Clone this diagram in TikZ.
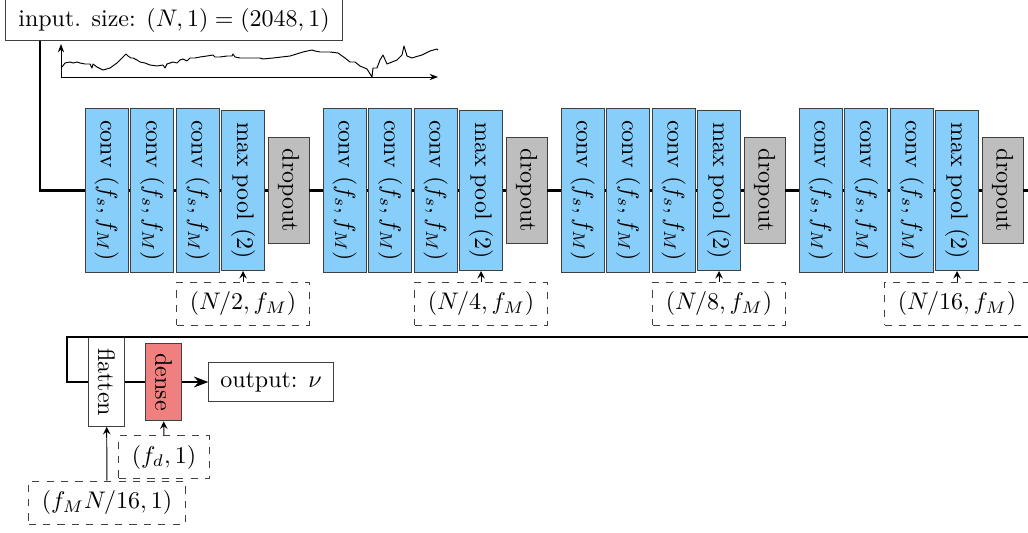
\documentclass[tikz,border=0pt]{standalone}
\usepackage{amsmath,amssymb}
\usetikzlibrary{arrows.meta}
\definecolor{convblue}{HTML}{87CEFA}
\definecolor{dropgray}{HTML}{BEBEBE}
\definecolor{densered}{HTML}{F08080}
\definecolor{edgegray}{HTML}{404040}

\begin{document}
\begin{tikzpicture}[x=0.01465cm, y=-0.01465cm,
  layer/.style={draw=edgegray, rotate=-90, minimum height=0.635cm, inner sep=2pt},
  convlayer/.style={layer, fill=convblue, minimum width=2.39cm},
  poollayer/.style={layer, fill=convblue, minimum width=2.344cm},
  droplayer/.style={layer, fill=dropgray, minimum width=1.547cm, minimum height=0.60cm},
  sizebox/.style={draw=edgegray, dashed, minimum height=0.63cm, inner xsep=5.5pt},
  flow/.style={line width=1.2pt},
  tip/.style={->, >=stealth, thin}]
  \path[use as bounding box, clip] (0,0) rectangle (1028,532);

  % input and signal
  \node[draw=edgegray, minimum width=4.95cm, minimum height=0.6cm, fill=white] (in) at (174,20) {input. size: $(N,1) = (2048,1)$};
  \draw[-{Stealth[length=3.5pt]}] (61,77) -- (61,44);
  \draw[-{Stealth[length=3.5pt]}] (61,77) -- (438,77);
  \draw[thin, line join=round] plot coordinates {
    (62,67) (65,63) (70,62) (73,63) (77,62) (80,63) (85,64) (90,64) (92,68) (93,64)
    (97,67) (103,70) (110,68) (117,63) (122,58) (126,54) (128,56) (131,58) (133,58)
    (137,60) (140,62) (145,63) (150,65) (157,66) (163,65) (165,68) (167,64) (170,63)
    (173,62) (177,63) (180,60) (183,59) (187,61) (190,58) (195,58) (200,57) (207,56)
    (213,55) (215,57) (220,57) (227,56) (232,56) (233,54) (235,57) (240,58) (245,58)
    (250,58) (260,58) (263,59) (273,58) (290,56) (303,52) (312,50) (315,51) (320,52)
    (330,52) (338,53) (345,58) (350,62) (355,62) (360,66) (367,69) (372,77) (373,68)
    (377,68) (380,60) (383,55) (387,64) (392,62) (397,60) (402,55) (404,46) (407,56)
    (412,58) (415,57) (422,55) (430,51) (437,49) (438,50)};

  % four conv blocks
  \foreach \g/\lab in {0/2, 1/4, 2/8, 3/16} {
    \pgfmathsetmacro{\xo}{238*\g}
    \node[convlayer] (c\g1) at (106.7+\xo,190.5) {conv $(f_s,f_M)$};
    \node[convlayer] (c\g2) at (152+\xo,190.5) {conv $(f_s,f_M)$};
    \node[convlayer] (c\g3) at (197.7+\xo,190.5) {conv $(f_s,f_M)$};
    \node[poollayer] (mp\g) at (243+\xo,190.5) {max pool $(2)$};
    \node[droplayer] (do\g) at (288.5+\xo,190.5) {dropout};
    \node[sizebox] (lb\g) at (243+\xo,303.5) {$(N/\lab, f_M)$};
    \draw[flow] (c\g1) -- (c\g2) -- (c\g3) -- (mp\g) -- (do\g);
    \draw[tip] (lb\g) -- (mp\g);
  }
  \foreach \g [evaluate=\g as \h using int(\g+1)] in {0,1,2}
    \draw[flow] (do\g) -- (c\h1);

  \coordinate (bend) at (40,190.5);
  \draw[flow] (bend |- in.south) -- (bend) -- (c01);

  % dense part
  \node[layer, fill=white, minimum width=1.30cm, minimum height=0.54cm] (fl) at (106.5,382) {flatten};
  \node[layer, fill=densered, minimum width=1.14cm, minimum height=0.54cm] (de) at (163.5,382) {dense};
  \node[draw=edgegray, minimum width=1.82cm, minimum height=0.57cm] (out) at (271,382) {output: $\nu$};
  \node[sizebox] (lbd) at (164,457) {$(f_d,1)$};
  \node[sizebox] (lbf) at (107,502.5) {$(f_M N/16,1)$};

  \coordinate (edge) at (1045,190.5);
  \coordinate (back) at (1045,337);
  \coordinate (ret) at (67,337);
  \coordinate (low) at (67,382);
  \draw[flow] (do3) -- (edge) -- (back) -- (ret) -- (low) -- (fl);
  \draw[flow] (fl) -- (de);
  \draw[flow, -{Stealth[length=6pt]}] (de) -- (out);
  \draw[tip] (lbd) -- (de);
  \draw[tip] (lbf) -- (fl);
\end{tikzpicture}
\end{document}
